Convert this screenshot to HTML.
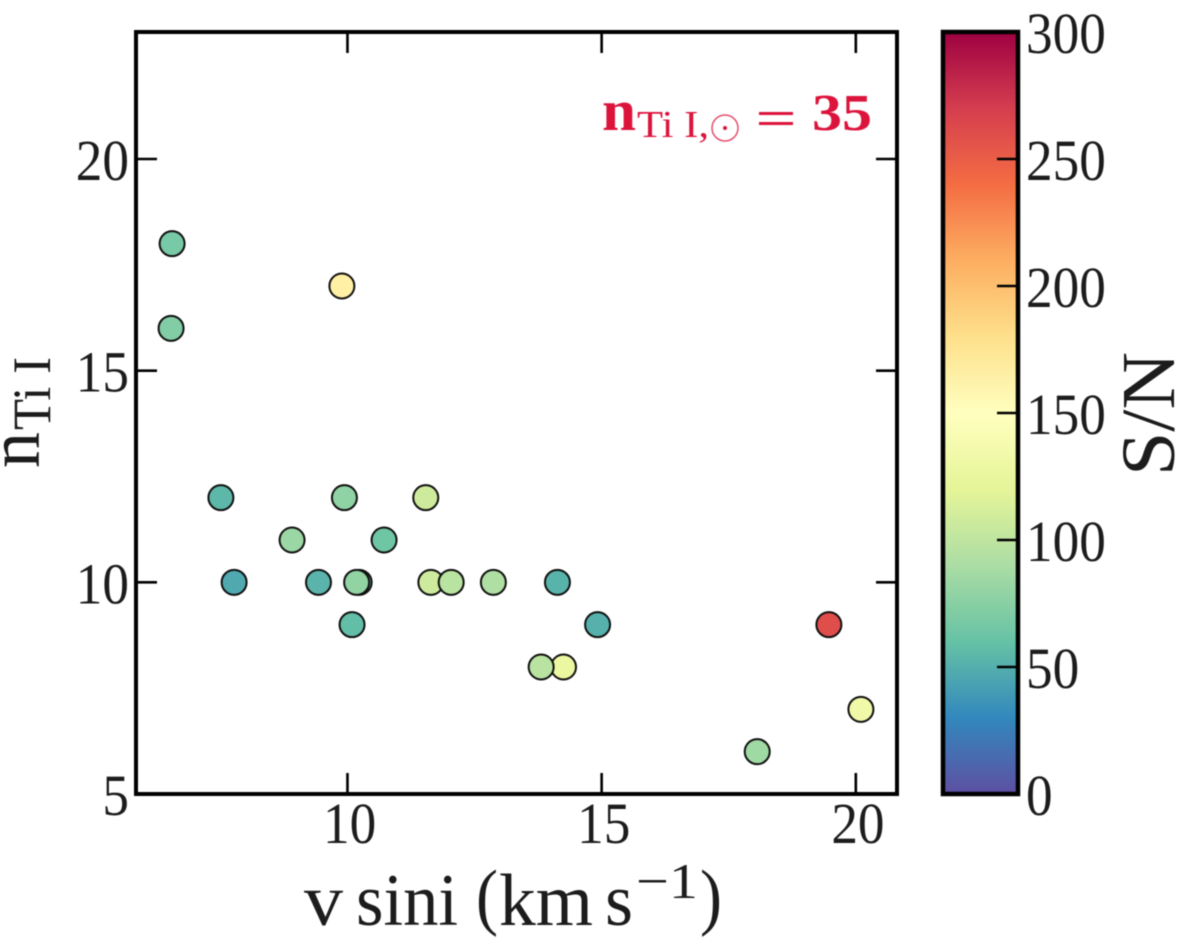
<!DOCTYPE html>
<html lang="en">
<head>
<meta charset="utf-8">
<title>Ti I line count versus v sin i</title>
<style>
  html, body { margin: 0; padding: 0; background: #fff; }
  svg { display: block; filter: blur(0.4px); }
  text { font-family: "Liberation Serif", serif; fill: #1c1c1c; }
  .tick-label { font-size: 58px; }
  text.anno { fill: #dc143c; font-weight: bold; }
</style>
</head>
<body>
<svg id="chart" width="1200" height="951" viewBox="0 0 1200 951" xmlns="http://www.w3.org/2000/svg">
  <defs>
    <linearGradient id="cmap" x1="0" y1="1" x2="0" y2="0"></linearGradient>
  </defs>
  <rect width="1200" height="951" fill="#fff"/>

  <g id="ticks"></g>
  <g id="points"></g>
  <rect x="136" y="32" width="761" height="762" fill="none" stroke="#000" stroke-width="4"/>

  <g font-size="74">
    <text x="304" y="925" textLength="39" lengthAdjust="spacingAndGlyphs">v</text>
    <text x="356" y="925" textLength="102" lengthAdjust="spacingAndGlyphs">sini</text>
    <text x="476" y="921" textLength="22" lengthAdjust="spacingAndGlyphs">(</text>
    <text x="499" y="925" textLength="94" lengthAdjust="spacingAndGlyphs">km</text>
    <text x="605" y="925" textLength="28" lengthAdjust="spacingAndGlyphs">s</text>
    <text x="636" y="898" font-size="50" textLength="62" lengthAdjust="spacingAndGlyphs">−1</text>
    <text x="700" y="921" textLength="22" lengthAdjust="spacingAndGlyphs">)</text>
  </g>

  <g>
    <text transform="translate(39,468) rotate(-90)" font-size="74" textLength="36" lengthAdjust="spacingAndGlyphs">n</text>
    <text transform="translate(50,430) rotate(-90)" font-size="54" textLength="73" lengthAdjust="spacingAndGlyphs">Ti I</text>
  </g>

  <g>
    <text class="anno" x="602" y="130" font-size="58" textLength="34" lengthAdjust="spacingAndGlyphs">n</text>
    <text class="anno" x="637" y="137" font-size="38" style="font-weight:normal" textLength="72" lengthAdjust="spacingAndGlyphs">Ti I,</text>
    <circle cx="725" cy="128" r="13" fill="none" stroke="#dc143c" stroke-width="1.5" opacity="0.75"/>
    <circle cx="725" cy="128" r="2" fill="#dc143c"/>
    <rect x="759" y="112" width="34" height="3" fill="#dc143c"/>
    <rect x="759" y="122" width="34" height="3" fill="#dc143c"/>
    <text class="anno" x="812" y="130" font-size="52" textLength="60" lengthAdjust="spacingAndGlyphs">35</text>
  </g>

  <rect id="colorbar" x="943" y="32" width="75" height="762" fill="url(#cmap)"/>
  <g id="cbar-ticks"></g>
  <rect x="943" y="32" width="75" height="762" fill="none" stroke="#000" stroke-width="4.5"/>
  <text transform="translate(1174,476) rotate(-90)" font-size="76" textLength="124" lengthAdjust="spacingAndGlyphs">S/N</text>
</svg>

<script>
// Data
const vsini = [6.55, 6.53, 9.89, 7.51, 7.77, 8.91, 9.43, 9.94, 10.09, 10.23, 10.18, 10.72, 11.54, 11.64, 12.04, 12.87, 14.25, 13.81, 14.13, 14.92, 18.06, 19.47, 20.10];
const nTiI  = [18, 16, 17, 12, 10, 11, 10, 12, 9, 10, 10, 11, 12, 10, 10, 10, 8, 8, 10, 9, 6, 9, 7];
const snr   = [68, 72, 165, 55, 47, 83, 53, 78, 58, 60, 79, 64, 108, 108, 97, 92, 127, 97, 52, 51, 85, 260, 132];

const xTicks = [10, 15, 20];
const yTicks = [5, 10, 15, 20];
const cbarTicks = [0, 50, 100, 150, 200, 250, 300];
const spectralReversed = ['#5e4fa2', '#3288bd', '#66c2a5', '#abdda4', '#e6f598', '#ffffbf', '#fee08b', '#fdae61', '#f46d43', '#d53e4f', '#9e0142'];

const xDomain = [5.84, 20.81];
const yDomain = [5, 23];
const cDomain = [0, 300];

const plot = { left: 136, right: 897, top: 32, bottom: 794 };
const bar = { left: 943, right: 1018 };
const NS = 'http://www.w3.org/2000/svg';

function xScale(v) {
  return plot.left + (v - xDomain[0]) / (xDomain[1] - xDomain[0]) * (plot.right - plot.left);
}
function yScale(v) {
  return plot.bottom - (v - yDomain[0]) / (yDomain[1] - yDomain[0]) * (plot.bottom - plot.top);
}
function cScale(v) {
  return plot.bottom - (v - cDomain[0]) / (cDomain[1] - cDomain[0]) * (plot.bottom - plot.top);
}
function hexToRgb(h) {
  return [1, 3, 5].map(function (i) { return parseInt(h.substr(i, 2), 16); });
}
function colorFor(v) {
  const t = Math.max(0, Math.min(1, (v - cDomain[0]) / (cDomain[1] - cDomain[0])));
  const p = t * (spectralReversed.length - 1);
  const i = Math.min(Math.floor(p), spectralReversed.length - 2);
  const a = hexToRgb(spectralReversed[i]);
  const b = hexToRgb(spectralReversed[i + 1]);
  const f = p - i;
  return 'rgb(' + a.map(function (c, k) { return Math.round(c + (b[k] - c) * f); }).join(',') + ')';
}
function line(parent, x1, y1, x2, y2) {
  const el = document.createElementNS(NS, 'line');
  el.setAttribute('x1', x1);
  el.setAttribute('y1', y1);
  el.setAttribute('x2', x2);
  el.setAttribute('y2', y2);
  el.setAttribute('stroke', '#000');
  el.setAttribute('stroke-width', '2.6');
  parent.appendChild(el);
  return el;
}
function label(parent, str, x, y) {
  const el = document.createElementNS(NS, 'text');
  el.setAttribute('class', 'tick-label');
  el.setAttribute('x', x);
  el.setAttribute('y', y);
  el.setAttribute('textLength', String(str).length * 26.6);
  el.setAttribute('lengthAdjust', 'spacingAndGlyphs');
  el.textContent = str;
  parent.appendChild(el);
  return el;
}

const tickLen = 21;
const ticksG = document.getElementById('ticks');
const cbarG = document.getElementById('cbar-ticks');
const pointsG = document.getElementById('points');
const grad = document.getElementById('cmap');

spectralReversed.forEach(function (c, i) {
  const s = document.createElementNS(NS, 'stop');
  s.setAttribute('offset', i / (spectralReversed.length - 1));
  s.setAttribute('stop-color', c);
  grad.appendChild(s);
});

xTicks.forEach(function (v) {
  const x = xScale(v);
  const bottomTick = line(ticksG, x, plot.bottom, x, plot.bottom - tickLen);
  
  
  const topTick = line(ticksG, x, plot.top, x, plot.top + tickLen);
  
  
  const t = label(ticksG, v, x - 24.5, 843);
  
  
});

yTicks.forEach(function (v) {
  const y = yScale(v);
  const leftTick = line(ticksG, plot.left, y, plot.left + tickLen, y);
  
  
  const rightTick = line(ticksG, plot.right, y, plot.right - tickLen, y);
  
  
  const t = label(ticksG, v, 129 - String(v).length * 26.6, y + 21);
  
  
});

cbarTicks.forEach(function (v) {
  const y = cScale(v);
  if (v !== cDomain[0] && v !== cDomain[1]) {
    const tk = line(cbarG, bar.right, y, bar.right - tickLen, y);
    
    
  }
  const t = label(cbarG, v, 1026, y + 21);
  
  
});

vsini.forEach(function (v, i) {
  const c = document.createElementNS(NS, 'circle');
  
  
  c.setAttribute('cx', xScale(v));
  c.setAttribute('cy', yScale(nTiI[i]));
  c.setAttribute('r', '12.5');
  c.setAttribute('fill', colorFor(snr[i]));
  c.setAttribute('stroke', '#111');
  c.setAttribute('stroke-width', '2');
  pointsG.appendChild(c);
});
</script>
</body>
</html>
